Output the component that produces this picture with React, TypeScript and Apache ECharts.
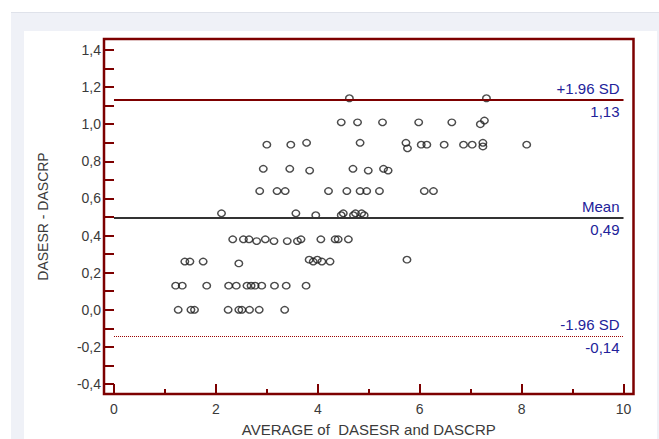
import React, { useEffect, useRef } from "react";
import * as echarts from "echarts";

// Bland-Altman data: average of the two scores (x) and their difference (y)
const averages = [
  4.62, 7.31,
  4.46, 4.78, 5.27, 5.98, 6.63, 7.19, 7.27,
  3.0, 3.47, 3.78, 4.83, 5.73, 5.76, 6.03, 6.14, 6.48, 6.86, 7.03, 7.24, 7.24, 8.1,
  2.93, 3.45, 3.84, 4.69, 4.99, 5.29, 5.38,
  2.86, 3.2, 3.36, 4.21, 4.57, 4.83, 4.96, 5.21, 6.09, 6.27,
  2.11, 3.57, 3.96, 4.46, 4.5, 4.7, 4.74, 4.86, 4.91,
  2.33, 2.54, 2.65, 2.8, 2.97, 3.14, 3.4, 3.6, 3.67, 4.06, 4.34, 4.4, 4.6,
  1.39, 1.49, 1.75, 2.45, 3.83, 3.91, 3.99, 4.08, 4.24, 5.75,
  1.21, 1.34, 1.82, 2.25, 2.4, 2.61, 2.69, 2.77, 2.9, 3.15, 3.38, 3.77,
  1.26, 1.51, 1.58, 2.24, 2.45, 2.51, 2.66, 2.85, 3.35,
];
const differences = [
  1.14, 1.14,
  1.01, 1.01, 1.01, 1.01, 1.01, 1.0, 1.02,
  0.89, 0.89, 0.9, 0.9, 0.9, 0.87, 0.89, 0.89, 0.89, 0.89, 0.89, 0.9, 0.88, 0.89,
  0.76, 0.76, 0.75, 0.76, 0.75, 0.76, 0.75,
  0.64, 0.64, 0.64, 0.64, 0.64, 0.64, 0.64, 0.64, 0.64, 0.64,
  0.52, 0.52, 0.51, 0.51, 0.52, 0.51, 0.52, 0.52, 0.51,
  0.38, 0.38, 0.38, 0.37, 0.38, 0.37, 0.37, 0.37, 0.38, 0.38, 0.38, 0.38, 0.38,
  0.26, 0.26, 0.26, 0.25, 0.27, 0.26, 0.27, 0.26, 0.26, 0.27,
  0.13, 0.13, 0.13, 0.13, 0.13, 0.13, 0.13, 0.13, 0.13, 0.13, 0.13, 0.13,
  0, 0, 0, 0, 0, 0, 0, 0, 0,
];

const meanDiff = 0.4949;
const upperLimit = 1.1319;
const lowerLimit = -0.1421;
const lineStartX = 0;
const lineEndX = 10;

const yTickValues = [-0.4, -0.3, -0.2, -0.1, 0, 0.1, 0.2, 0.3, 0.4, 0.5, 0.6, 0.7, 0.8, 0.9, 1.0, 1.1, 1.2, 1.3, 1.4];
const yLabelValues = [-0.4, -0.2, 0, 0.2, 0.4, 0.6, 0.8, 1.0, 1.2, 1.4];
const xMajorTicks = [0, 2, 4, 6, 8, 10];
const xMinorTicks = [1, 3, 5, 7, 9];

const xTitle = "AVERAGE of  DASESR and DASCRP";
const yTitle = "DASESR - DASCRP";

const FONT = "'Liberation Sans', Arial, sans-serif";
const FRAME = "#7d0000";
const LABEL_BLUE = "#22229a";
const TEXT = "#3a3a3a";

const fmt = (v: number, d: number) => v.toFixed(d).replace(".", ",");

function refLine(value: number, topText: string, color: string, width: number, type: string) {
  const labelBase = { show: true, color: LABEL_BLUE, fontSize: 15, fontFamily: FONT, distance: 4 };
  return [
    [
      { coord: [lineStartX, value], lineStyle: { color, width, type }, label: { ...labelBase, position: "insideEndTop", formatter: topText } },
      { coord: [lineEndX, value] },
    ],
    [
      { coord: [lineStartX, value], lineStyle: { color: "rgba(0,0,0,0)", width: 0, type: "solid" }, label: { ...labelBase, position: "insideEndBottom", formatter: fmt(value, 2) } },
      { coord: [lineEndX, value] },
    ],
  ];
}

export default function App() {
  const ref = useRef<HTMLDivElement>(null);
  useEffect(() => {
    if (!ref.current) return;
    const chart = echarts.init(ref.current, null, { renderer: "svg" });
    const points = averages.map((x, i) => [x, differences[i]]);
    chart.setOption({
      animation: false,
      backgroundColor: "transparent",
      textStyle: { fontFamily: FONT },
      grid: {
        left: 104,
        right: 25.5,
        top: 39,
        bottom: 45,
        containLabel: false,
        outerBoundsMode: "none",
        show: true,
        borderColor: FRAME,
        borderWidth: 2.5,
        backgroundColor: "transparent",
      },
      xAxis: [
        {
          type: "value",
          min: -0.196,
          max: 10.196,
          name: xTitle,
          nameLocation: "middle",
          nameGap: 27,
          nameTextStyle: { color: TEXT, fontSize: 15, fontFamily: FONT, lineHeight: 16 },
          axisLine: { show: false, onZero: false },
          splitLine: { show: false },
          axisTick: { show: true, inside: true, length: 10, customValues: xMajorTicks, lineStyle: { color: FRAME, width: 2 } },
          axisLabel: { show: true, customValues: xMajorTicks, margin: 8, color: TEXT, fontSize: 14, fontFamily: FONT, formatter: (v: number) => String(v) },
        },
        {
          type: "value",
          position: "bottom",
          min: -0.196,
          max: 10.196,
          axisLine: { show: false, onZero: false },
          splitLine: { show: false },
          axisTick: { show: true, inside: true, length: 5, customValues: xMinorTicks, lineStyle: { color: FRAME, width: 2 } },
          axisLabel: { show: false },
        },
      ],
      yAxis: {
        type: "value",
        min: -0.4539,
        max: 1.4593,
        name: yTitle,
        nameLocation: "middle",
        nameGap: 54,
        nameTextStyle: { color: TEXT, fontSize: 14, fontFamily: FONT },
        axisLine: { show: false, onZero: false },
        splitLine: { show: false },
        axisTick: { show: true, inside: true, length: 10, customValues: yTickValues, lineStyle: { color: FRAME, width: 2 } },
        axisLabel: { show: true, customValues: yLabelValues, margin: 3, color: TEXT, fontSize: 14, fontFamily: FONT, formatter: (v: number) => fmt(v, 1) },
      },
      series: [
        {
          type: "scatter",
          xAxisIndex: 0,
          yAxisIndex: 0,
          data: points,
          symbol: "circle",
          symbolSize: [7.5, 6.5],
          itemStyle: { color: "rgba(255,255,255,0)", borderColor: "#1e1e1e", borderWidth: 1.4 },
          markLine: {
            silent: true,
            symbol: "none",
            animation: false,
            data: [
              ...refLine(upperLimit, "+1.96 SD", "#7d0000", 2, "solid"),
              ...refLine(meanDiff, "Mean", "#333333", 2, "solid"),
              ...refLine(lowerLimit, "-1.96 SD", "#9a0000", 1, "dotted"),
            ],
          },
        },
      ],
    });
    return () => chart.dispose();
  }, []);

  return (
    <div style={{ position: "fixed", left: 0, top: 0, width: 659, height: 439, background: "#ffffff", overflow: "hidden" }}>
      <div style={{ position: "absolute", left: 11, top: 12, width: 648, height: 427, background: "#eff1f7", borderTop: "1px solid #dfe2ea" }} />
      <div style={{ position: "absolute", left: 24, top: 31, width: 633, height: 408, background: "#ffffff" }} />
      <div ref={ref} style={{ position: "absolute", left: 0, top: 0, width: 659, height: 439 }} />
    </div>
  );
}
